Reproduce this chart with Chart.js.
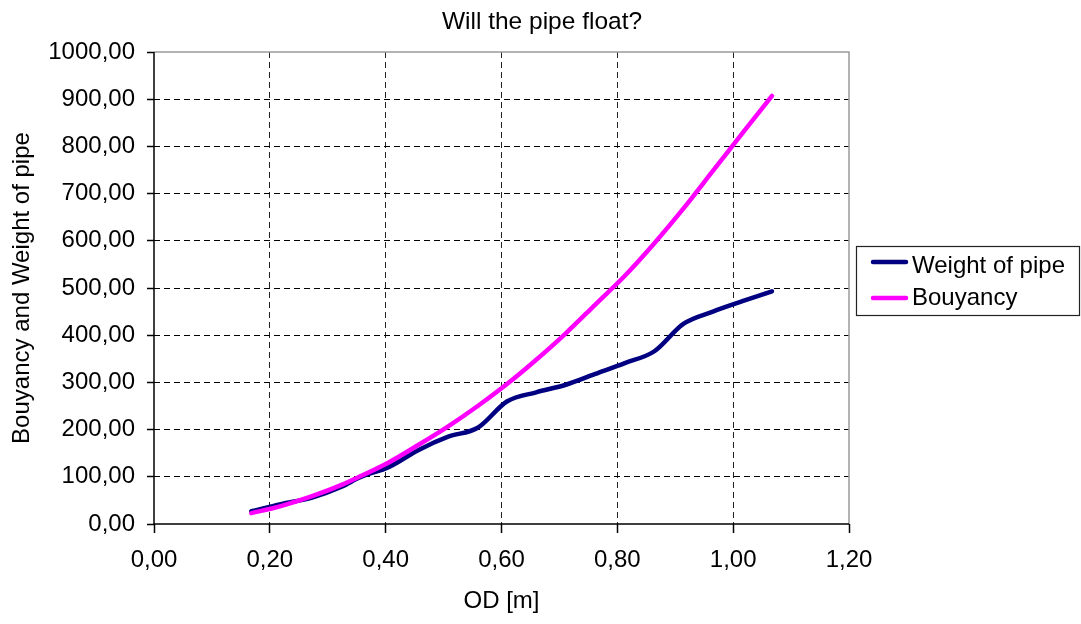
<!DOCTYPE html>
<html><head><meta charset="utf-8">
<script src="https://cdn.jsdelivr.net/npm/chart.js@4.4.0/dist/chart.umd.min.js"></script>
<style>html,body{margin:0;padding:0;background:#fff;overflow:hidden}canvas{display:block}</style>
</head><body>
<canvas id="c" width="1081" height="624"></canvas>
<script>
const chartTitle = 'Will the pipe float?';
const xTitle = 'OD [m]';
const yTitle = 'Bouyancy and Weight of pipe';
const seriesNames = ['Weight of pipe', 'Bouyancy'];
const od = [0.168, 0.219, 0.273, 0.324, 0.356, 0.406, 0.457, 0.508, 0.559, 0.610, 0.660, 0.711, 0.762, 0.813, 0.864, 0.914, 0.965, 1.016, 1.067];
const weight = [27, 42, 56, 79, 99, 121, 157, 185, 204, 260, 279, 295, 318, 341, 366, 424, 450, 472, 493];
const buoyancy = [23, 38, 59, 83, 101, 131, 168, 207, 250, 297, 348, 404, 465, 526, 595, 668, 748, 828, 907];
const xTicks = [0, 0.2, 0.4, 0.6, 0.8, 1.0, 1.2];
const yMax = 1000, yStep = 100;

const FONT = '"Liberation Sans", Arial, sans-serif';
const fmt = v => Number(v).toFixed(2).replace('.', ',');
const colors = ['#000080', '#FF00FF'];

const overlay = {
  id: 'overlay',
  beforeDatasetsDraw(chart) {
    const { ctx, chartArea: a } = chart;
    ctx.save();
    ctx.setLineDash([]);
    ctx.strokeStyle = '#9a9a9a';
    ctx.lineWidth = 1.5;
    ctx.beginPath();
    ctx.moveTo(a.left, a.top);
    ctx.lineTo(a.right, a.top);
    ctx.lineTo(a.right, a.bottom);
    ctx.stroke();
    ctx.restore();
  },
  afterDraw(chart) {
    const { ctx, chartArea: a } = chart;
    ctx.save();
    ctx.setLineDash([]);
    ctx.strokeStyle = '#000';
    ctx.lineWidth = 1.5;
    ctx.beginPath();
    ctx.moveTo(a.left, a.top);
    ctx.lineTo(a.left, a.bottom);
    ctx.lineTo(a.right, a.bottom);
    ctx.stroke();
    ctx.fillStyle = '#000';
    ctx.font = '24.5px ' + FONT;
    ctx.textAlign = 'center';
    ctx.textBaseline = 'alphabetic';
    ctx.fillText(chartTitle, 542, 29);
    ctx.font = '24px ' + FONT;
    ctx.strokeStyle = '#222';
    ctx.lineWidth = 1.2;
    ctx.strokeRect(856.5, 246.5, 223, 69);
    const rows = [262, 298];
    const bases = [273, 305];
    chart.data.datasets.forEach((ds, i) => {
      ctx.strokeStyle = ds.borderColor;
      ctx.lineWidth = 4.5;
      ctx.lineCap = 'round';
      ctx.beginPath();
      ctx.moveTo(873, rows[i]);
      ctx.lineTo(906, rows[i]);
      ctx.stroke();
      ctx.fillStyle = '#000';
      ctx.textAlign = 'left';
      ctx.fillText(ds.label, 912, bases[i]);
    });
    ctx.restore();
  }
};

const edgeX = v => Math.abs(v - xTicks[0]) < 1e-9 || Math.abs(v - xTicks[xTicks.length - 1]) < 1e-9;

new Chart(document.getElementById('c'), {
  type: 'line',
  data: {
    datasets: [
      { label: seriesNames[0], data: od.map((x, i) => ({ x, y: weight[i] })), borderColor: colors[0],
        borderWidth: 4.5, pointRadius: 0, cubicInterpolationMode: 'monotone', fill: false, order: 1, borderCapStyle: 'round' },
      { label: seriesNames[1], data: od.map((x, i) => ({ x, y: buoyancy[i] })), borderColor: colors[1],
        borderWidth: 4.5, pointRadius: 0, cubicInterpolationMode: 'monotone', fill: false, order: 0, borderCapStyle: 'round' }
    ]
  },
  options: {
    responsive: false, animation: false, events: [],
    layout: { padding: { top: 52, right: 232, left: 0, bottom: 0 } },
    plugins: { legend: { display: false }, title: { display: false }, tooltip: { enabled: false } },
    scales: {
      x: {
        type: 'linear', min: xTicks[0], max: xTicks[xTicks.length - 1],
        afterBuildTicks(s) { s.ticks = xTicks.map(v => ({ value: v })); },
        ticks: { callback: v => fmt(v), font: { family: FONT, size: 24 }, color: '#000', padding: 13, maxRotation: 0, autoSkip: false },
        grid: {
          color: c => (c.tick && edgeX(c.tick.value)) ? 'rgba(0,0,0,0)' : '#222',
          lineWidth: 1, tickLength: 9, tickColor: '#000', tickBorderDash: [], tickWidth: 1.5
        },
        border: { display: false, dash: [6, 4] },
        title: { display: true, text: xTitle, font: { family: FONT, size: 24 }, color: '#000', padding: { top: 0, bottom: 8 } },
        afterFit(s) { s.height = 100; }
      },
      y: {
        type: 'linear', min: 0, max: yMax,
        ticks: { stepSize: yStep, callback: v => fmt(v), font: { family: FONT, size: 24 }, color: '#000', padding: 12 },
        grid: {
          color: c => (c.tick && (c.tick.value === yMax || c.tick.value === 0)) ? 'rgba(0,0,0,0)' : '#000',
          lineWidth: 1, tickLength: 7, tickColor: '#000', tickBorderDash: [], tickWidth: 1.5
        },
        border: { display: false, dash: [6, 4] },
        title: { display: true, text: yTitle, font: { family: FONT, size: 24 }, color: '#000', padding: { top: 8, bottom: 0 } },
        afterFit(s) { s.width = 154; }
      }
    }
  },
  plugins: [overlay]
});
</script>
</body></html>
